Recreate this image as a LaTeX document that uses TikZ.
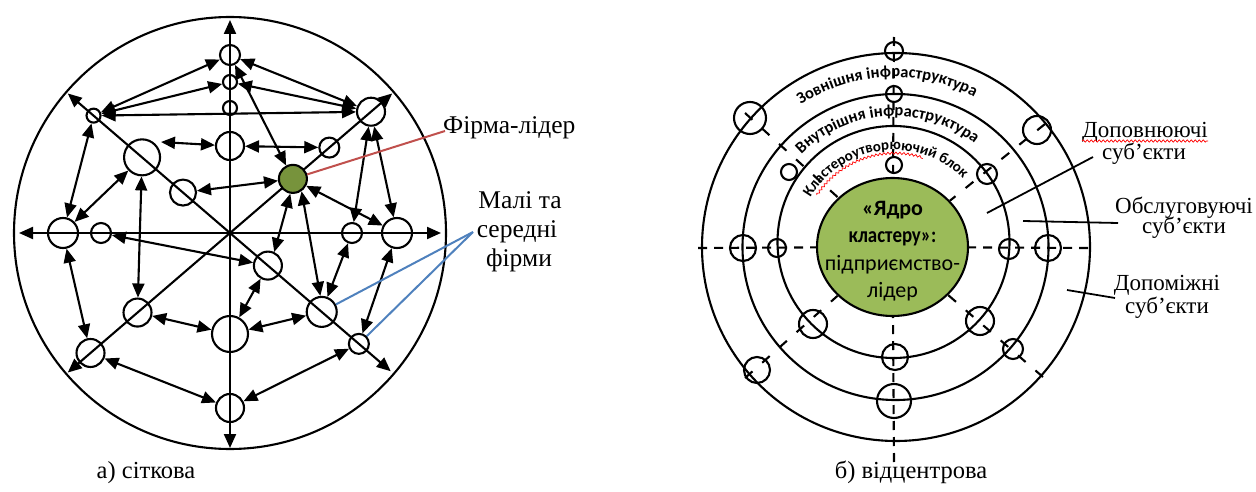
\documentclass[tikz,border=0pt]{standalone}
\usepackage{fontspec}
\setmainfont{Liberation Serif}
\newfontfamily\carl{Carlito}
\usetikzlibrary{arrows.meta,decorations.text,decorations.pathmorphing,shapes.geometric,calc}
\definecolor{leadgreen}{HTML}{77933C}
\definecolor{coregreen}{HTML}{9BBB59}
\definecolor{redline}{HTML}{C0504D}
\definecolor{blueline}{HTML}{4F81BD}
\newcommand\ringfont{\carl\bfseries\fontsize{16.5pt}{20pt}\selectfont}
\newcommand\ringfontb{\carl\bfseries\fontsize{15pt}{20pt}\selectfont}
\newcommand\labfont{\fontsize{23pt}{28pt}\selectfont}
\newcommand\lablfont{\fontsize{25.5pt}{30pt}\selectfont}
\newcommand\capfont{\fontsize{24.5pt}{30pt}\selectfont}
\newcommand\corefont{\carl\fontsize{22pt}{27pt}\selectfont}
\begin{document}
\begin{tikzpicture}[x=1pt,y=1pt,
  lw/.style={line width=2.1pt},
  fc/.style={circle,draw,line width=2.1pt,inner sep=0pt,minimum size=#1},
  dbl/.style={line width=2.1pt,{Triangle[length=14pt,width=12pt]}-{Triangle[length=14pt,width=12pt]}},
  dsh/.style={line width=2.1pt,dash pattern=on 9pt off 7pt},
  dshd/.style={line width=2.1pt,dash pattern=on 10pt off 13pt},
  lead/.style={line width=1.8pt},
  lab/.style={font=\labfont,inner sep=0pt,anchor=base},
  labl/.style={font=\lablfont,inner sep=0pt,anchor=base},
  corel/.style={font=\corefont,inner sep=0pt,anchor=base},
  squig/.style={draw=red,line width=0.7pt,decorate,decoration={snake,amplitude=1.1pt,segment length=4pt}},
]
\useasboundingbox (0,0) rectangle (1256,-492);
% ================= left diagram =================
\coordinate (C) at (230,-233);
\draw[lw] (C) circle[radius=216];
\coordinate (aT) at (230,-20);
\coordinate (aB) at (230,-448);
\coordinate (aL) at (19,-233);
\coordinate (aR) at (441,-233);
\coordinate (aNE) at ([shift={(40.7:214)}]C);
\coordinate (aNW) at ([shift={(139.3:214)}]C);
\coordinate (aSW) at ([shift={(220.7:214)}]C);
\coordinate (aSE) at ([shift={(319.3:212)}]C);
\draw[dbl] (aT) -- (aB);
\draw[dbl] (aL) -- (aR);
\draw[dbl] (aNW) -- (aSE);
\draw[dbl] (aNE) -- (aSW);
% circles
\node[fc=20] (v1) at (230,-55) {};
\node[fc=14] (v2) at (230,-82) {};
\node[fc=14] (v3) at (230,-108) {};
\node[fc=28] (v4) at (230,-146) {};
\node[fc=36] (v5) at (230,-334) {};
\node[fc=28] (v6) at (230,-408) {};
\node[fc=30] (h1) at (63,-233) {};
\node[fc=20] (h2) at (101,-233) {};
\node[fc=20] (h3) at (352,-233) {};
\node[fc=30] (h4) at (397,-233) {};
\node[fc=14] (d1) at ([shift={(139.3:180)}]C) {};
\node[fc=36] (d2) at ([shift={(139.3:116)}]C) {};
\node[fc=26] (d3) at ([shift={(139.3:62)}]C) {};
\node[fc=28] (d4) at ([shift={(319.3:50)}]C) {};
\node[fc=30] (d5) at ([shift={(319.3:121)}]C) {};
\node[fc=20] (d6) at ([shift={(319.3:170)}]C) {};
\node[fc=28,fill=leadgreen] (g) at ([shift={(40.7:83)}]C) {};
\node[fc=20] (e1) at ([shift={(40.7:131)}]C) {};
\node[fc=28] (e2) at ([shift={(40.7:186)}]C) {};
\node[fc=28] (e3) at ([shift={(220.7:122)}]C) {};
\node[fc=28] (e4) at ([shift={(220.7:184)}]C) {};
\coordinate (p8) at (161,-142);
% arrows
\draw[dbl] (d1) -- (v1);
\draw[dbl] (d1) -- (v2);
\draw[dbl] (d1) -- (e2);
\draw[dbl] (v1) -- (e2);
\draw[dbl] (v2) -- (e2);
\draw[dbl] (v1) -- (g);
\draw[dbl] (v4) -- (e1);
\draw[dbl] (p8) -- (v4);
\draw[dbl] (d3) -- (g);
\draw[dbl] (d2) -- (e3);
\draw[dbl] (d1) -- (h1);
\draw[dbl] (d2) -- (h1);
\draw[dbl] (h1) -- (e4);
\draw[dbl] (h2) -- (d4);
\draw[dbl] (e3) -- (v5);
\draw[dbl] (e4) -- (v6);
\draw[dbl] (v5) -- (d5);
\draw[dbl] (v5) -- (d4);
\draw[dbl] (v6) -- (d6);
\draw[dbl] (d5) -- (h3);
\draw[dbl] (d6) -- (h4);
\draw[dbl] (g.-100) -- (d4.65);
\draw[dbl] (g.-55) -- (d5.95);
\draw[dbl] (g) -- (h4);
\draw[dbl] (e2) -- (h3);
\draw[dbl] (e2) -- (h4);
% labels left
\coordinate (rl) at (445,-131);
\coordinate (bl) at (473,-232);
\draw[redline,line width=2pt] (rl) -- (g);
\draw[blueline,line width=2pt] (bl) -- (d5);
\draw[blueline,line width=2pt] (bl) -- (d6);
\node[labl,anchor=base west] (fl) at (443,-134) {Фірма-лідер};
\node[labl] (m1) at (520,-208) {Малі та};
\node[labl] (m2) at (517,-237) {середні};
\node[labl] (m3) at (519,-266) {фірми};
\node[labl,font=\capfont] (capa) at (146,-478) {а) сіткова};
% ================= right diagram =================
\coordinate (R) at (894,-247);
\draw[lw] (893.5,-242) circle[radius=116];
\draw[lw] (895.5,-247) circle[radius=153];
\draw[lw] (896,-247) circle[radius=194];
\node[ellipse,draw,line width=2.1pt,fill=coregreen,minimum width=151,minimum height=138,inner sep=0pt] (core) at (892.5,-247) {};
\coordinate (hL) at (698,-248);
\coordinate (hR) at (1088,-248);
\coordinate (vT) at (894,-37);
\coordinate (vB) at (894,-462);
\coordinate (nE) at (1045,-124);
\coordinate (nW) at (745,-113);
\coordinate (sE) at (1043,-377);
\coordinate (sW) at (745,-378);
\draw[dsh] (hL) -- (core);
\draw[dsh] (hR) -- (core);
\draw[dsh] (vT) -- (core);
\draw[dsh] (vB) -- (core);
\draw[dshd] (nE) -- (core);
\draw[dshd] (nW) -- (core);
\draw[dshd] (sE) -- (core);
\draw[dshd] (sW) -- (core);
\node[fc=18] (c1) at (894,-51) {};
\node[fc=16] (c2) at (894,-94) {};
\node[fc=16] (c3) at (894,-165) {};
\node[fc=32] (c4) at (750,-118) {};
\node[fc=16] (c5) at (789,-172) {};
\node[fc=28] (c6) at (1037,-130) {};
\node[fc=20] (c7) at (987,-174) {};
\node[fc=26] (c8) at (743,-248) {};
\node[fc=18] (c9) at (777,-248) {};
\node[fc=20] (c10) at (1009,-249) {};
\node[fc=26] (c11) at (1048,-248) {};
\node[fc=28] (c12) at (813,-324) {};
\node[fc=26] (c13) at (757,-370) {};
\node[fc=26] (c14) at (895,-357) {};
\node[fc=34] (c15) at (894,-401) {};
\node[fc=28] (c16) at (980,-321) {};
\node[fc=20] (c17) at (1013,-349) {};
% ring texts
\path[decorate,decoration={text along path,text align=center,text={|\ringfont|Зовнішня інфраструктура}}]
  ([shift={(160:170)}]R) arc[start angle=160,end angle=25,radius=170];
\path[decorate,decoration={text along path,text align=center,text={|\ringfont|Внутрішня інфраструктура}}]
  ([shift={(163.5:131)}]R) arc[start angle=163.5,end angle=23.5,radius=131];
\path[decorate,decoration={text along path,text align=center,text={|\ringfontb|Кластероутворюючий блок}}]
  ([shift={(177:97)}]R) arc[start angle=177,end angle=17,radius=97];
\draw[squig] ([shift={(146:93)}]R) arc[start angle=146,end angle=72,radius=93];
% core text
\node[corel,font=\corefont\bfseries] (k1) at (892.5,-215) {«Ядро};
\node[corel,font=\corefont\bfseries] (k2) at (892.5,-242) {\scalebox{0.86}[1]{кластеру»:}};
\node[corel] (k3) at (892.5,-270) {підприємство-};
\node[corel] (k4) at (892.5,-297) {лідер};
% right labels
\node[lab] (dp1) at (1145,-138) {Доповнюючі};
\node[lab] (dp2) at (1144,-160) {суб’єкти};
\node[lab] (ob1) at (1184,-213) {Обслуговуючі};
\node[lab] (ob2) at (1184,-233) {суб’єкти};
\node[lab] (dm1) at (1167,-290) {Допоміжні};
\node[lab] (dm2) at (1167,-313) {суб’єкти};
\draw[squig] ([yshift=-3pt]dp1.base west) -- ([yshift=-3pt]dp1.base east);
\coordinate (l1a) at (987,-213);
\coordinate (l1b) at (1093,-157);
\coordinate (l2a) at (1023,-221);
\coordinate (l2b) at (1118,-223);
\coordinate (l3a) at (1067,-290);
\coordinate (l3b) at (1115,-298);
\draw[lead] (l1a) -- (l1b);
\draw[lead] (l2a) -- (l2b);
\draw[lead] (l3a) -- (l3b);
\node[labl,font=\capfont] (capb) at (911,-478) {б) відцентрова};
\end{tikzpicture}
\end{document}
